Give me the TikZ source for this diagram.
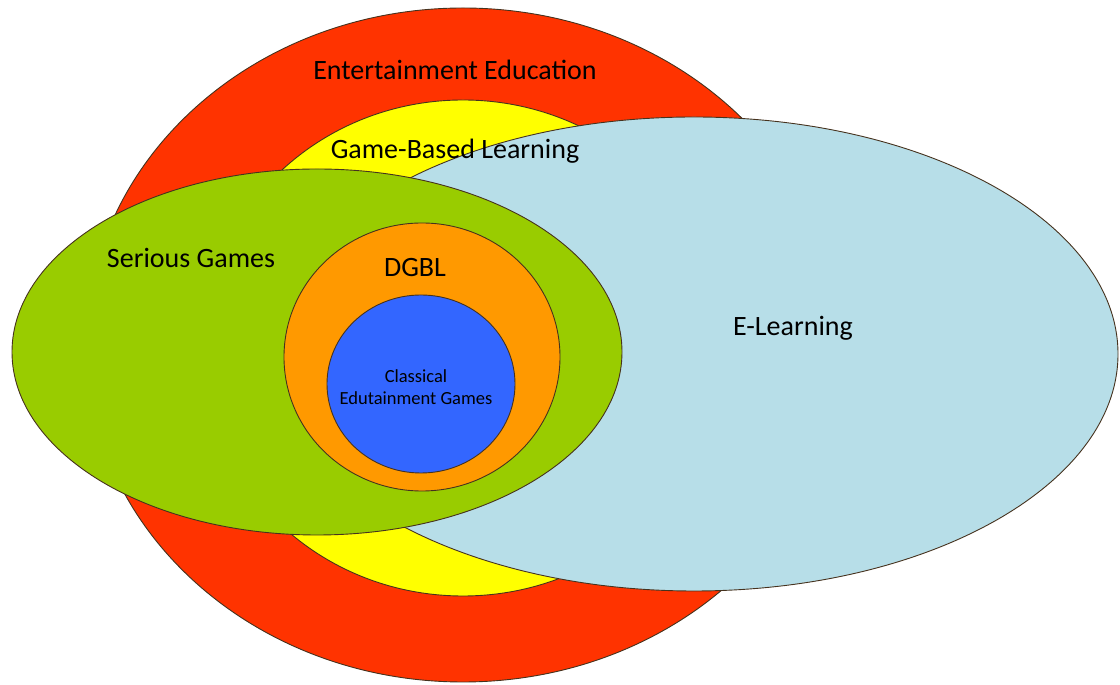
\documentclass[tikz,border=0pt]{standalone}
\usepackage{fontspec}
\setmainfont{Carlito}
\usetikzlibrary{shapes.geometric}
\definecolor{eered}{RGB}{255,51,0}
\definecolor{gbyellow}{RGB}{255,255,0}
\definecolor{sggreen}{RGB}{153,204,0}
\definecolor{elblue}{RGB}{183,222,232}
\definecolor{dgorange}{RGB}{255,153,0}
\definecolor{cegblue}{RGB}{51,102,255}
\definecolor{edge}{RGB}{70,50,30}
\tikzset{
  blob/.style={ellipse, draw=edge, line width=0.9pt, inner sep=0pt},
  lbl/.style={font=\fontsize{28}{32}\selectfont, text=black, inner sep=0pt},
  smalllbl/.style={font=\fontsize{18.5}{22}\selectfont, text=black, inner sep=0pt, align=center}
}
\begin{document}
\begin{tikzpicture}[x=1pt,y=1pt]
\useasboundingbox (0,0) rectangle (1120,685);
\node[blob, fill=eered, minimum width=754pt, minimum height=674pt] (ee) at (463,340) {};
\node[blob, fill=gbyellow, minimum width=520pt, minimum height=496pt] (gbl) at (463,337) {};
\node[blob, fill=elblue, minimum width=848pt, minimum height=474pt] (el) at (694,331) {};
\node[blob, fill=sggreen, minimum width=610pt, minimum height=366pt] (sg) at (317,333) {};
\node[blob, fill=dgorange, minimum width=276pt, minimum height=268pt] (dg) at (422,328) {};
\node[blob, fill=cegblue, minimum width=188pt, minimum height=178pt] (ceg) at (421,301) {};
\node[lbl] (t1) at (455,615) {Entertainment Education};
\node[lbl] (t2) at (455,534) {Game-Based Learning};
\node[lbl] (t3) at (191,427) {Serious Games};
\node[lbl] (t4) at (415,417) {DGBL};
\node[lbl] (t5) at (793,357) {E-Learning};
\node[smalllbl] (t6) at (416,298) {Classical\\Edutainment Games};
\end{tikzpicture}
\end{document}
